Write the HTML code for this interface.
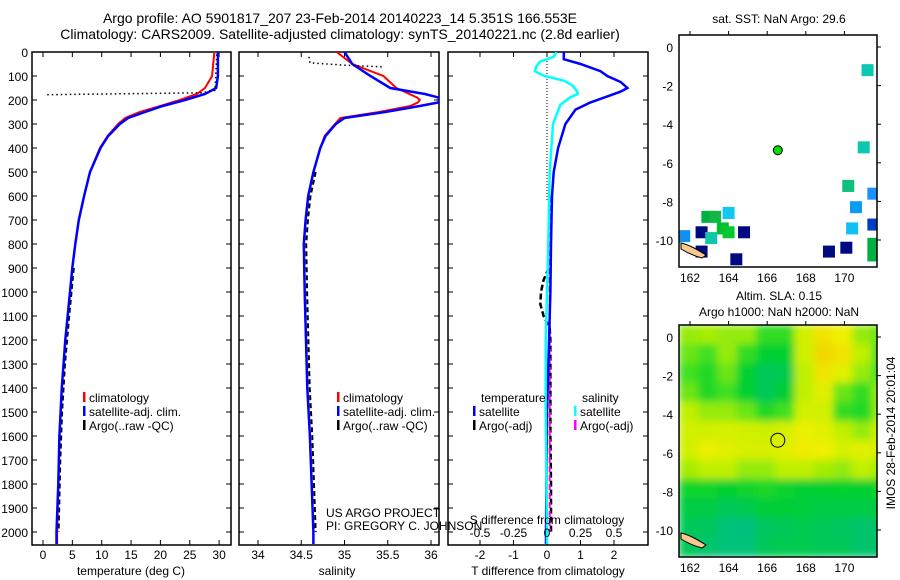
<!DOCTYPE html>
<html><head><meta charset="utf-8"><style>
html,body{margin:0;padding:0;background:#fff;}
svg{display:block;font-family:"Liberation Sans",sans-serif;}
</style></head><body>
<svg id="fig" width="900" height="580" viewBox="0 0 900 580" xmlns="http://www.w3.org/2000/svg">
<defs>
<clipPath id="c1"><rect x="32" y="52" width="199" height="493"/></clipPath>
<clipPath id="c2"><rect x="239" y="52" width="200" height="493"/></clipPath>
<clipPath id="c3"><rect x="448" y="52" width="200" height="493"/></clipPath>
<clipPath id="cm1"><rect x="679" y="35" width="198" height="232"/></clipPath>
<clipPath id="cm2"><rect x="679" y="325" width="198" height="232"/></clipPath>
<filter id="blur" x="-5%" y="-5%" width="110%" height="110%"><feGaussianBlur stdDeviation="4" edgeMode="duplicate"/></filter>
</defs>
</svg>
<script>
// ---------- data ----------
const depthT = [0,50,100,150,175,200,225,250,275,300,350,400,500,600,700,800,900,1000,1200,1400,1600,1800,2000,2050];
const climT  = [29.2,29.0,28.8,27.6,26.2,23.3,20.0,16.5,14.0,12.8,11.0,9.7,8.0,7.0,6.1,5.5,5.0,4.6,3.8,3.2,2.8,2.6,2.4,2.4];
const satT   = [29.8,29.8,29.8,29.5,27.6,24.2,20.4,17.4,14.5,13.1,11.1,9.8,8.0,7.0,6.1,5.5,5.0,4.6,3.8,3.2,2.8,2.6,2.3,2.3];
const argoTdepth = [10,160,170,178];
const argoT = [29.6,29.3,27.0,0.7];
const argoTdeepDepth = [900,1000,1100,1300,1500,1700,1900,2000];
const argoTdeep = [5.0,4.6,4.2,3.5,3.0,2.7,2.5,2.4];

const depthS = [0,50,100,150,175,190,200,210,225,250,275,300,350,400,500,600,700,800,1000,1400,1600,2000,2050];
const climS  = [34.91,35.09,35.45,35.60,35.75,35.84,35.87,35.85,35.76,35.40,34.95,34.89,34.77,34.72,34.64,34.58,34.55,34.53,34.54,34.57,34.60,34.64,34.64];
const satS   = [35.00,35.09,35.30,35.53,35.93,36.09,36.09,36.09,35.87,35.47,35.00,34.90,34.78,34.72,34.64,34.58,34.55,34.53,34.54,34.57,34.60,34.64,34.64];
const argoSdepth = [20,45,55,62];
const argoS = [34.59,34.60,35.00,35.45];
const argoSdeepDepth = [500,600,700,800,1000,1400,1600,2000];
const argoSdeep = [34.65,34.59,34.56,34.54,34.55,34.58,34.61,34.65];

const depthD = [0,30,50,80,100,125,150,165,185,210,240,300,400,500,600,800,1000,1500,2000,2050];
const dTsat  = [0.5,0.5,1.0,1.6,1.8,2.2,2.4,2.2,1.8,1.3,0.85,0.55,0.33,0.2,0.15,0.12,0.1,0.0,-0.03,-0.03];
const depthDS = [0,20,40,60,80,100,120,140,160,175,190,220,300,500,800,1200,1500,2000,2050];
const dSsat  = [0.07,0.05,-0.05,-0.08,-0.09,-0.02,0.13,0.19,0.22,0.23,0.17,0.10,0.045,0.02,0.01,-0.01,-0.01,0.0,0.0];
const argoDdepth = [600,700,800,900,950,1000,1050,1100,1150,1200,1400,1600,1800,2000];
const argoDT = [0.1,0.12,0.1,0.05,-0.1,-0.18,-0.2,-0.1,0.08,0.1,0.1,0.1,0.12,0.12];
const argoDS = [0.02,0.02,0.02,0.02,0.02,0.02,0.02,0.02,0.02,0.02,0.02,0.02,0.02,0.02];

const tempTicks = [0,5,10,15,20,25,30];
const salTicks = [34,34.5,35,35.5,36];
const dTTicks = [-2,-1,0,1,2];
const dTLabels = ['-2','-1','0','1','2'];
const dSTicks = [-0.5,-0.25,0,0.25,0.5];
const dSLabels = ['-0.5','-0.25','0','0.25','0.5'];
const depthTicks = [0,100,200,300,400,500,600,700,800,900,1000,1100,1200,1300,1400,1500,1600,1700,1800,1900,2000];
const lonTicks = [162,164,166,168,170];
const latTicks = [0,-2,-4,-6,-8,-10];

const sstLon = [171.2,171.0,170.2,171.5,170.6,170.4,171.5,171.5,171.5,170.1,169.2,164.0,162.9,163.3,163.7,164.0,162.6,164.8,163.1,162.6,161.7,164.4];
const sstLat = [-1.2,-5.2,-7.2,-7.6,-8.3,-9.4,-9.2,-10.2,-10.8,-10.4,-10.6,-8.6,-8.8,-8.8,-9.4,-9.6,-9.6,-9.6,-9.9,-10.6,-9.8,-11.0];
const sstCol = ['#0cc8b0','#0cc8b0','#10c080','#1e90ff','#0a9cf0','#10c0f0','#0040c0','#00b040','#00b040','#000a80','#000a80','#10c8f0','#00b040','#10b848','#00c030','#00c830','#000a80','#000a80','#10c8a8','#000a80','#1090f0','#000a80'];
const argoLon = [166.55];
const argoLat = [-5.35];

const slaLat = [0.12,-0.88,-1.88,-2.88,-3.88,-4.88,-5.88,-6.88,-7.88,-8.88,-9.88,-10.88];
const slaLon = [161.93,162.93,163.93,164.93,165.93,166.93,167.93,168.93,169.93,170.93,171.93];
const slaRow0 = [0.6,0.62,0.6,0.6,0.45,0.45,0.7,0.85,0.8,0.6,0.55];
const slaRow1 = [0.55,0.5,0.6,0.45,0.3,0.3,0.7,0.9,0.85,0.65,0.5];
const slaRow2 = [0.5,0.4,0.55,0.3,0.2,0.22,0.65,0.85,0.75,0.6,0.5];
const slaRow3 = [0.55,0.4,0.5,0.3,0.2,0.28,0.65,0.75,0.55,0.45,0.6];
const slaRow4 = [0.65,0.6,0.6,0.55,0.4,0.5,0.7,0.7,0.45,0.4,0.6];
const slaRow5 = [0.7,0.7,0.72,0.7,0.68,0.72,0.78,0.75,0.65,0.6,0.7];
const slaRow6 = [0.7,0.78,0.75,0.72,0.72,0.75,0.82,0.8,0.72,0.75,0.72];
const slaRow7 = [0.62,0.65,0.65,0.6,0.6,0.65,0.65,0.62,0.6,0.65,0.62];
const slaRow8 = [0.35,0.35,0.3,0.35,0.38,0.33,0.3,0.3,0.32,0.3,0.35];
const slaRow9 = [0.25,0.25,0.2,0.22,0.28,0.28,0.27,0.25,0.25,0.25,0.25];
const slaRow10 = [0.2,0.18,0.12,0.1,0.18,0.2,0.22,0.2,0.18,0.15,0.15];
const slaRow11 = [0.2,0.15,0.12,0.12,0.2,0.22,0.22,0.2,0.2,0.15,0.15];
const slaGrid = [slaRow0,slaRow1,slaRow2,slaRow3,slaRow4,slaRow5,slaRow6,slaRow7,slaRow8,slaRow9,slaRow10,slaRow11];

// ---------- helpers ----------
const svg = document.getElementById('fig');
const NS = 'http://www.w3.org/2000/svg';
function mk(parent, tag, attrs, name, inter) {
  const el = document.createElementNS(NS, tag);
  for (const k in attrs) el.setAttribute(k, attrs[k]);
  
  
  parent.appendChild(el);
  return el;
}
function txt(parent, x, y, s, size, anchor, name) {
  const t = mk(parent, 'text', {x:x, y:y, 'font-size':size, 'text-anchor':anchor||'start', fill:'#000'}, name, false);
  t.textContent = s;
  return t;
}
const yD = d => 52 + d * 0.24;
const xT = v => 43 + v * 5.87;
const xS = v => 258 + (v - 34) * 86.5;
const xDT = v => 547 + v * 33.5;
const xDS = v => 547 + v * 134;
const mLon = v => 690 + (v - 162) * 19.3;
const mLat1 = v => 47 - v * 19.3;
const mLat2 = v => 337 - v * 19.3;

function line(parent, xs, ys, fx, stroke, w, dash, name, clip) {
  const pts = xs.map((v, i) => fx(v).toFixed(1) + ',' + yD(ys[i]).toFixed(1)).join(' ');
  const a = {points:pts, fill:'none', stroke:stroke, 'stroke-width':w, 'clip-path':'url(#' + clip + ')'};
  if (dash) a['stroke-dasharray'] = dash;
  return mk(parent, 'polyline', a, name, false);
}

// ---------- titles ----------
txt(svg, 340, 23, 'Argo profile: AO 5901817_207 23-Feb-2014 20140223_14 5.351S 166.553E', 14, 'middle', 'figure-title-line1');
txt(svg, 340, 39, 'Climatology: CARS2009. Satellite-adjusted climatology: synTS_20140221.nc (2.8d earlier)', 14, 'middle', 'figure-title-line2');

// ---------- panel frames & ticks ----------
function panel(x0, w, name) {
  const g = mk(svg, 'g', {}, name, false);
  mk(g, 'rect', {x:x0, y:52, width:w, height:493, fill:'#fff', stroke:'#000', 'stroke-width':1.5}, name + '-frame', false);
  depthTicks.forEach(d => {
    mk(g, 'line', {x1:x0, x2:x0 + 5, y1:yD(d), y2:yD(d), stroke:'#000'}, 'depth-tick', false);
    mk(g, 'line', {x1:x0 + w - 5, x2:x0 + w, y1:yD(d), y2:yD(d), stroke:'#000'}, 'depth-tick', false);
  });
  return g;
}
const p1 = panel(32, 199, 'temperature-panel');
const p2 = panel(239, 200, 'salinity-panel');
const p3 = panel(448, 200, 'difference-panel');

depthTicks.forEach(d => {
  txt(svg, 28, yD(d) + 5, String(d), 12, 'end', 'depth-tick-label');
});

tempTicks.forEach(v => {
  mk(p1, 'line', {x1:xT(v), x2:xT(v), y1:52, y2:57, stroke:'#000'}, 'temp-tick', false);
  mk(p1, 'line', {x1:xT(v), x2:xT(v), y1:540, y2:545, stroke:'#000'}, 'temp-tick', false);
  txt(svg, xT(v), 559, String(v), 12, 'middle', 'temp-tick-label');
});
txt(svg, 131, 575, 'temperature (deg C)', 12, 'middle', 'temperature-axis-title');

salTicks.forEach(v => {
  mk(p2, 'line', {x1:xS(v), x2:xS(v), y1:52, y2:57, stroke:'#000'}, 'sal-tick', false);
  mk(p2, 'line', {x1:xS(v), x2:xS(v), y1:540, y2:545, stroke:'#000'}, 'sal-tick', false);
  txt(svg, xS(v), 559, String(v), 12, 'middle', 'sal-tick-label');
});
txt(svg, 337, 575, 'salinity', 12, 'middle', 'salinity-axis-title');

dTTicks.forEach((v, i) => {
  mk(p3, 'line', {x1:xDT(v), x2:xDT(v), y1:52, y2:57, stroke:'#000'}, 'dt-tick', false);
  txt(svg, xDT(v), 559, dTLabels[i], 12, 'middle', 'dt-tick-label');
});
dSTicks.forEach((v, i) => {
  mk(p3, 'line', {x1:xDS(v), x2:xDS(v), y1:540, y2:545, stroke:'#000'}, 'ds-tick', false);
});
txt(svg, 548, 575, 'T difference from climatology', 12, 'middle', 'dt-axis-title');

// ---------- temperature series ----------
line(p1, argoTdeep, argoTdeepDepth, v => xT(v) + 1.5, '#000', 2, '5,3', 'argo-temp-deep', 'c1');
line(p1, climT, depthT, xT, '#ff0000', 2, null, 'climatology-temp-line', 'c1');
line(p1, satT, depthT, xT, '#0000ff', 2.5, null, 'satellite-temp-line', 'c1');
line(p1, argoT, argoTdepth, xT, '#000', 1.5, '1.5,3', 'argo-temp-line', 'c1');

// ---------- salinity series ----------
line(p2, argoSdeep, argoSdeepDepth, v => xS(v) + 1.5, '#000', 2, '5,3', 'argo-sal-deep', 'c2');
line(p2, climS, depthS, xS, '#ff0000', 2, null, 'climatology-sal-line', 'c2');
line(p2, satS, depthS, xS, '#0000ff', 2.5, null, 'satellite-sal-line', 'c2');
line(p2, argoS, argoSdepth, xS, '#000', 1.5, '1.5,3', 'argo-sal-line', 'c2');

// ---------- difference series ----------
mk(p3, 'line', {x1:xDT(0), x2:xDT(0), y1:52, y2:200, stroke:'#000', 'stroke-dasharray':'1,2'}, 'zero-line', false);
line(p3, argoDT, argoDdepth, xDT, '#000', 2.5, '6,3', 'argo-dt-line', 'c3');
line(p3, argoDS, argoDdepth, xDS, '#ff00ff', 2, '6,3', 'argo-ds-line', 'c3');
line(p3, dTsat, depthD, xDT, '#0000ff', 2.5, null, 'satellite-dt-line', 'c3');
line(p3, dSsat, depthDS, xDS, '#00ffff', 2.5, null, 'satellite-ds-line', 'c3');
txt(svg, 547, 524, 'S difference from climatology', 12, 'middle', 'ds-axis-title');
dSTicks.forEach((v, i) => {
  txt(svg, xDS(v), 537, dSLabels[i], 12, 'middle', 'ds-tick-label');
});

// ---------- legends ----------
function legend(g, x, y, color, label, nm) {
  mk(g, 'rect', {x:x, y:y - 10, width:2.5, height:10, fill:color}, nm + '-swatch', false);
  txt(g, x + 6, y, label, 12, 'start', nm + '-label');
}
legend(p1, 83, 402, '#ff0000', 'climatology', 'legend-climatology');
legend(p1, 83, 416, '#0000ff', 'satellite-adj. clim.', 'legend-satellite');
legend(p1, 83, 430, '#000', 'Argo(..raw -QC)', 'legend-argo');
legend(p2, 337, 402, '#ff0000', 'climatology', 'legend-climatology');
legend(p2, 337, 416, '#0000ff', 'satellite-adj. clim.', 'legend-satellite');
legend(p2, 337, 430, '#000', 'Argo(..raw -QC)', 'legend-argo');
txt(p3, 481, 402, 'temperature', 12, 'start', 'legend-temperature-header');
txt(p3, 582, 402, 'salinity', 12, 'start', 'legend-salinity-header');
legend(p3, 473, 416, '#0000ff', 'satellite', 'legend-t-satellite');
legend(p3, 473, 430, '#000', 'Argo(-adj)', 'legend-t-argo');
legend(p3, 574, 416, '#00ffff', 'satellite', 'legend-s-satellite');
legend(p3, 574, 430, '#ff00ff', 'Argo(-adj)', 'legend-s-argo');
txt(svg, 326, 517, 'US ARGO PROJECT', 12, 'start', 'project-label');
txt(svg, 326, 530, 'PI: GREGORY C. JOHNSON', 12, 'start', 'pi-label');

// ---------- maps ----------
function mapFrame(y0, latF, name) {
  const g = mk(svg, 'g', {}, name, false);
  lonTicks.forEach(v => {
    mk(g, 'line', {x1:mLon(v), x2:mLon(v), y1:y0 - 4, y2:y0, stroke:'#000'}, 'lon-tick', false);
    txt(g, mLon(v), y0 + 232 + 15, String(v), 12, 'middle', 'lon-tick-label');
  });
  latTicks.forEach(v => {
    mk(g, 'line', {x1:877, x2:881, y1:latF(v), y2:latF(v), stroke:'#000'}, 'lat-tick', false);
    txt(g, 673, latF(v) + 5, String(v), 12, 'end', 'lat-tick-label');
  });
  return g;
}
const m1 = mapFrame(35, mLat1, 'sst-map');
txt(svg, 779, 23, 'sat. SST: NaN Argo: 29.6', 12, 'middle', 'sst-map-title');
mk(m1, 'rect', {x:679, y:35, width:198, height:232, fill:'#fff'}, 'sst-map-bg', false);
const sq = mk(m1, 'g', {'clip-path':'url(#cm1)'}, 'sst-squares', false);
sstLon.forEach((lo, i) => {
  mk(sq, 'rect', {x:mLon(lo) - 6, y:mLat1(sstLat[i]) - 6, width:12, height:12, fill:sstCol[i]}, 'sst-cell', false);
});
mk(sq, 'path', {d:'M681,243 C690,245 698,250 706,255 L702,258 C694,256 686,252 681,249 Z', fill:'#f8c890', stroke:'#000', 'stroke-width':1}, 'coastline', false);
argoLon.forEach((lo, i) => {
  mk(m1, 'circle', {cx:mLon(lo), cy:mLat1(argoLat[i]), r:4.5, fill:'#00e000', stroke:'#000', 'stroke-width':1}, 'argo-location-marker', false);
});
mk(m1, 'rect', {x:679, y:35, width:198, height:232, fill:'none', stroke:'#000', 'stroke-width':1.5}, 'sst-map-frame', false);

const m2 = mapFrame(325, mLat2, 'sla-map');
txt(svg, 779, 300, 'Altim. SLA: 0.15', 12, 'middle', 'sla-map-title');
txt(svg, 779, 316, 'Argo h1000: NaN h2000: NaN', 12, 'middle', 'sla-map-subtitle');
const stops = [[0.1,[0,192,128]],[0.3,[0,208,48]],[0.5,[64,224,32]],[0.65,[192,240,0]],[0.8,[240,240,0]],[0.9,[240,216,0]]];
function cmap(v) {
  if (v <= stops[0][0]) return 'rgb(' + stops[0][1].join(',') + ')';
  for (let i = 1; i < stops.length; i++) {
    if (v <= stops[i][0]) {
      const t = (v - stops[i-1][0]) / (stops[i][0] - stops[i-1][0]);
      const c = stops[i][1].map((c2, k) => Math.round(stops[i-1][1][k] + (c2 - stops[i-1][1][k]) * t));
      return 'rgb(' + c.join(',') + ')';
    }
  }
  return 'rgb(' + stops[stops.length-1][1].join(',') + ')';
}
const hg = mk(m2, 'g', {'clip-path':'url(#cm2)'}, 'sla-heatmap', false);
const hgi = mk(hg, 'g', {filter:'url(#blur)'}, 'sla-heatmap-cells', false);
slaGrid.forEach((row, r) => {
  row.forEach((v, c) => {
    mk(hgi, 'rect', {x:mLon(slaLon[c]) - 10, y:mLat2(slaLat[r]) - 10, width:20.5, height:20.5, fill:cmap(v)}, 'sla-cell', false);
  });
});
mk(hg, 'path', {d:'M681,533 C690,535 698,540 706,545 L702,548 C694,546 686,542 681,539 Z', fill:'#f8c890', stroke:'#000', 'stroke-width':1}, 'coastline', false);
argoLon.forEach((lo, i) => {
  mk(m2, 'circle', {cx:mLon(lo), cy:mLat2(argoLat[i]), r:7, fill:'none', stroke:'#000', 'stroke-width':1}, 'argo-location-ring', false);
});
mk(m2, 'rect', {x:679, y:325, width:198, height:232, fill:'none', stroke:'#000', 'stroke-width':1.5}, 'sla-map-frame', false);

const ts = txt(svg, 0, 0, 'IMOS 28-Feb-2014 20:01:04', 12, 'middle', 'timestamp-label');
ts.setAttribute('transform', 'translate(895,433) rotate(-90)');
</script>
</body></html>
